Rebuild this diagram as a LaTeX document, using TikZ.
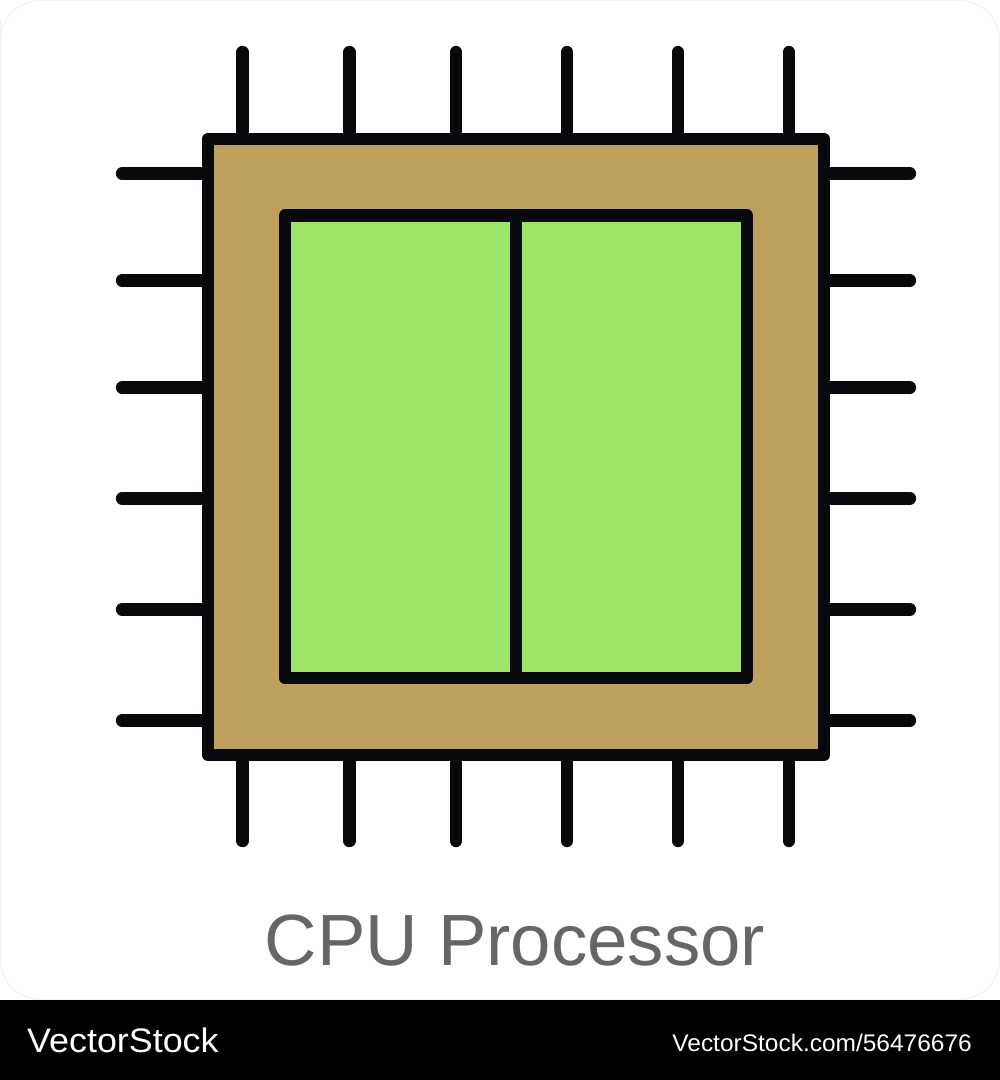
\documentclass[tikz,border=0pt]{standalone}
\usepackage{fontspec}
\setmainfont{Liberation Sans}
\definecolor{ink}{HTML}{08090C}
\definecolor{gold}{HTML}{BEA05F}
\definecolor{lime}{HTML}{9DE569}
\definecolor{labelgray}{HTML}{666666}
\definecolor{edgegray}{HTML}{F1F1F1}
\tikzset{
  pinline/.style={draw=ink,line width=12.3pt,line cap=round},
  boxline/.style={draw=ink,line width=12.3pt,line join=round},
  captext/.style={inner sep=0pt,anchor=base}
}
\begin{document}
\begin{tikzpicture}[x=1pt,y=-1pt]
\useasboundingbox (0,0) rectangle (1000,1080);
\fill[white] (0,0) rectangle (1000,1080);
\draw[edgegray,line width=1pt,rounded corners=40pt] (0.5,60) -- (0.5,0.5) -- (999.5,0.5) -- (999.5,999.5) -- (0.5,999.5) -- cycle;
\fill[black] (0,1000) rectangle (1000,1080);
\foreach \x in {242.5,349.5,456,567,678,789}{
  \draw[pinline] (\x,52) -- (\x,139);
  \draw[pinline] (\x,755) -- (\x,841);
}
\foreach \y in {173.5,280.5,387.5,498.5,609.5,720.5}{
  \draw[pinline] (122,\y) -- (208,\y);
  \draw[pinline] (824,\y) -- (910,\y);
}
\draw[boxline,fill=gold] (208,139) rectangle (824,755);
\draw[boxline,fill=lime] (285,215.5) rectangle (747,678);
\draw[draw=ink,line width=12.3pt] (516,215.5) -- (516,678);
\node[captext,text=labelgray,font=\fontsize{72.6}{72.6}\selectfont] (title) at (515,965) {CPU Processor};
\node[captext,text=white,font=\fontsize{34}{34}\selectfont,anchor=base west,xscale=1.055] (logo) at (27,1052) {VectorStock};
\node[captext,text=white,font=\fontsize{24}{24}\selectfont,anchor=base east,xscale=1.02] (url) at (972,1051) {VectorStock.com/56476676};
\end{tikzpicture}
\end{document}
